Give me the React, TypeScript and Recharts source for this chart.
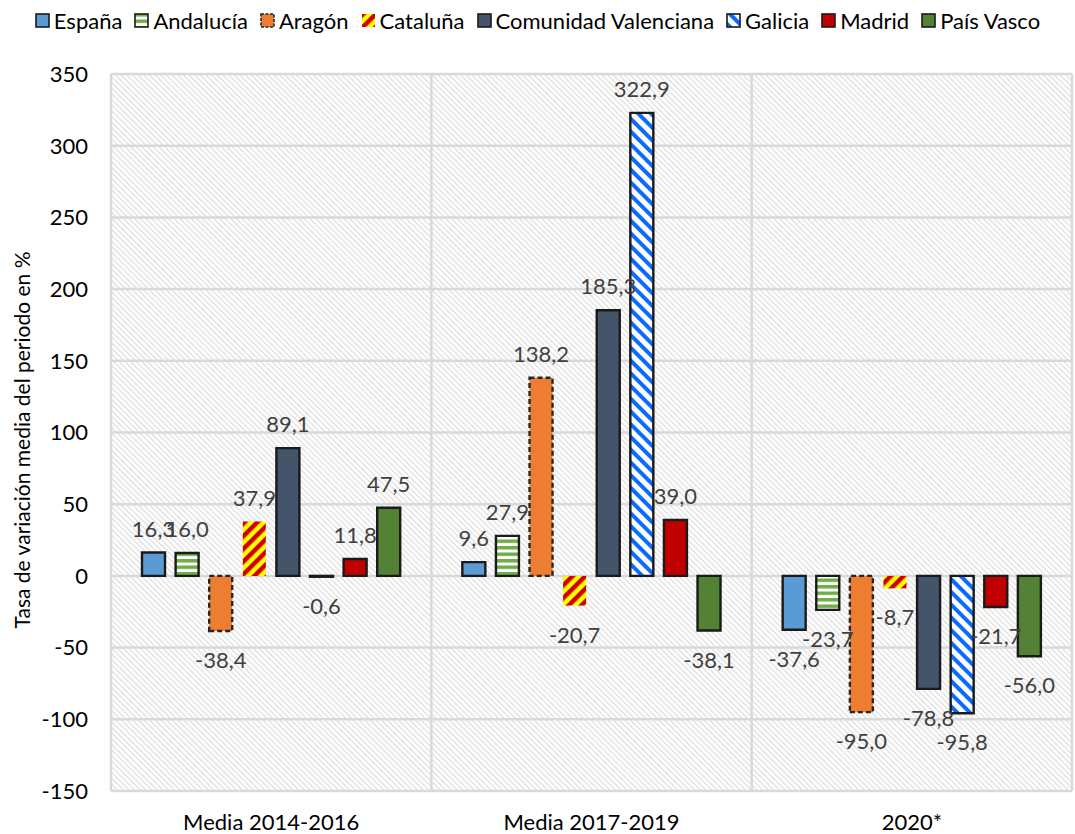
import { BarChart, Bar, XAxis, YAxis, CartesianGrid, LabelList } from 'recharts';

const FONT = 'Lato, "Open Sans", sans-serif';

// periods on the x axis
const categories = ['Media 2014-2016', 'Media 2017-2019', '2020*'];

// average rate of change per period, in %
const espana = [16.3, 9.6, -37.6];
const andalucia = [16.0, 27.9, -23.7];
const aragon = [-38.4, 138.2, -95.0];
const cataluna = [37.9, -20.7, -8.7];
const valenciana = [89.1, 185.3, -78.8];
const galicia = [-0.6, 322.9, -95.8];
const madrid = [11.8, 39.0, -21.7];
const paisVasco = [47.5, -38.1, -56.0];

const yTicks = [-150, -100, -50, 0, 50, 100, 150, 200, 250, 300, 350];

const data = categories.map((name, i) => ({
  name,
  espana: espana[i],
  andalucia: andalucia[i],
  aragon: aragon[i],
  cataluna: cataluna[i],
  valenciana: valenciana[i],
  galicia: galicia[i],
  madrid: madrid[i],
  paisVasco: paisVasco[i],
}));

const BORDER = '#1a1a1a';

type SeriesDef = {
  key: string;
  name: string;
  fill: string; // solid colour or pattern id
  pattern?: 'hstripe' | 'catalan' | 'galician';
  stroke?: string;
  dash?: string;
};

const SERIES: SeriesDef[] = [
  { key: 'espana', name: 'España', fill: '#5B9BD5', stroke: BORDER },
  { key: 'andalucia', name: 'Andalucía', fill: '#70AD47', pattern: 'hstripe', stroke: BORDER },
  { key: 'aragon', name: 'Aragón', fill: '#ED7D31', stroke: '#262626', dash: '5 3' },
  { key: 'cataluna', name: 'Cataluña', fill: '#FFFF00', pattern: 'catalan' },
  { key: 'valenciana', name: 'Comunidad Valenciana', fill: '#44546A', stroke: BORDER },
  { key: 'galicia', name: 'Galicia', fill: '#0A6CFF', pattern: 'galician', stroke: BORDER },
  { key: 'madrid', name: 'Madrid', fill: '#C00000', stroke: BORDER },
  { key: 'paisVasco', name: 'País Vasco', fill: '#548235', stroke: BORDER },
];

/** Pattern definitions; prefix keeps ids unique between chart and legend swatches */
function Patterns({ prefix }: { prefix: string }) {
  return (
    <defs>
      <pattern id={`${prefix}hstripe`} width="6" height="6.5" patternUnits="userSpaceOnUse">
        <rect width="6" height="6.5" fill="#ffffff" />
        <rect width="6" height="3.5" fill="#70AD47" />
      </pattern>
      <pattern
        id={`${prefix}catalan`}
        width="9"
        height="9"
        patternUnits="userSpaceOnUse"
        patternTransform="rotate(45)"
      >
        <rect width="9" height="9" fill="#FFFF00" />
        <rect width="4.5" height="9" fill="#D00000" />
      </pattern>
      <pattern
        id={`${prefix}galician`}
        width="9"
        height="9"
        patternUnits="userSpaceOnUse"
        patternTransform="rotate(-45)"
      >
        <rect width="9" height="9" fill="#ffffff" />
        <rect width="4" height="9" fill="#0A6CFF" />
      </pattern>
    </defs>
  );
}

const fillOf = (s: SeriesDef, prefix: string) => (s.pattern ? `url(#${prefix}${s.pattern})` : s.fill);

const fmt = (v: number) => v.toFixed(1).replace('.', ',');

/** Value label: above positive bars, below negative ones */
function ValueLabel(props: any) {
  const { x, y, width, height, value } = props;
  if (value == null) return null;
  const nx = Number(x);
  const ny = Number(y);
  const h = Number(height);
  const cx = nx + Number(width) / 2;
  const top = Math.min(ny, ny + h);
  const bottom = Math.max(ny, ny + h);
  const ty = value >= 0 ? top - 16 : bottom + 37;
  return (
    <text x={cx} y={ty} textAnchor="middle" fill="#404040" fontSize={22} fontFamily={FONT}>
      {fmt(Number(value))}
    </text>
  );
}

function ChartLegend() {
  return (
    <div
      style={{
        position: 'absolute',
        top: 6,
        left: 0,
        width: 1075,
        height: 28,
        display: 'flex',
        justifyContent: 'center',
        alignItems: 'center',
        fontFamily: FONT,
        fontSize: 22,
        color: '#000',
        whiteSpace: 'nowrap',
      }}
    >
      {SERIES.map((s, i) => (
        <span
          key={s.key}
          style={{
            display: 'inline-flex',
            alignItems: 'center',
            marginRight: i === SERIES.length - 1 ? 0 : 12,
          }}
        >
          <svg width={15} height={15} style={{ marginRight: 4 }}>
            <Patterns prefix={`lg-${s.key}-`} />
            <rect
              x={1}
              y={1}
              width={13}
              height={13}
              fill={fillOf(s, `lg-${s.key}-`)}
              stroke={s.stroke ?? 'none'}
              strokeWidth={1.6}
              strokeDasharray={s.dash ? '3 1.5' : undefined}
            />
          </svg>
          {s.name}
        </span>
      ))}
    </div>
  );
}

export default function App() {
  return (
    <div
      style={{
        position: 'absolute',
        left: 0,
        top: 0,
        width: 1075,
        height: 834,
        background: '#ffffff',
        fontFamily: FONT,
      }}
    >
      <ChartLegend />

      {/* y axis title */}
      <div
        style={{
          position: 'absolute',
          left: 22 - 300,
          top: 440 - 14,
          width: 600,
          height: 28,
          lineHeight: '28px',
          textAlign: 'center',
          transform: 'rotate(-90deg)',
          fontSize: 21,
          color: '#000',
        }}
      >
        Tasa de variación media del periodo en %
      </div>

      <BarChart
        width={1075}
        height={834}
        data={data}
        margin={{ top: 74, right: 3, left: 0, bottom: 13 }}
        barSize={23}
        barGap={10.6}
      >
        <Patterns prefix="" />
        <defs>
          <pattern
            id="bgHatch"
            width="4"
            height="4"
            patternUnits="userSpaceOnUse"
            patternTransform="rotate(-45)"
          >
            <rect width="4" height="4" fill="#ffffff" />
            <rect width="1.2" height="4" fill="#dcdcdc" />
          </pattern>
        </defs>

        <CartesianGrid
          fill="url(#bgHatch)"
          fillOpacity={1}
          stroke="#d9d9d9"
          strokeWidth={2.5}
          verticalCoordinatesGenerator={({ offset }: any) => [
            offset.left,
            offset.left + offset.width / 3,
            offset.left + (2 * offset.width) / 3,
            offset.left + offset.width,
          ]}
        />
        <XAxis
          dataKey="name"
          height={30}
          tickLine={false}
          axisLine={false}
          tickMargin={17}
          tick={{ fill: '#000', fontSize: 22, fontFamily: FONT }}
        />
        <YAxis
          width={111}
          domain={[-150, 350]}
          ticks={yTicks}
          interval={0}
          tickLine={false}
          axisLine={false}
          tickMargin={17}
          tick={{ fill: '#000', fontSize: 22, fontFamily: FONT }}
        />

        {SERIES.map((s) => (
          <Bar
            key={s.key}
            dataKey={s.key}
            name={s.name}
            fill={fillOf(s, '')}
            stroke={s.stroke ?? 'none'}
            strokeWidth={s.stroke ? 2.4 : 0}
            strokeDasharray={s.dash}
            isAnimationActive={false}
          >
            <LabelList dataKey={s.key} content={<ValueLabel />} />
          </Bar>
        ))}
      </BarChart>
    </div>
  );
}
